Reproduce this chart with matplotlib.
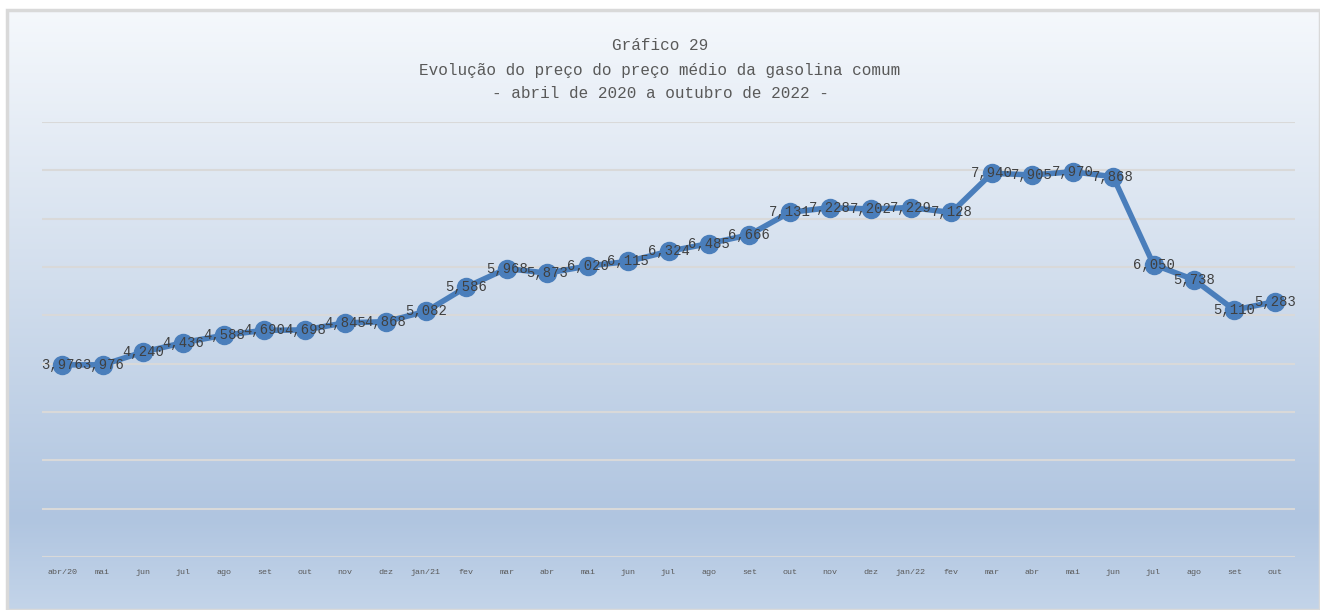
import numpy as np
import matplotlib
matplotlib.use("Agg")
import matplotlib.pyplot as plt
from matplotlib.colors import LinearSegmentedColormap
from matplotlib.patches import Rectangle

# preço médio da gasolina comum (R$/litro), abr/20 a out/22
meses = ['abr/20', 'mai', 'jun', 'jul', 'ago', 'set', 'out', 'nov', 'dez',
         'jan/21', 'fev', 'mar', 'abr', 'mai', 'jun', 'jul', 'ago', 'set', 'out', 'nov', 'dez',
         'jan/22', 'fev', 'mar', 'abr', 'mai', 'jun', 'jul', 'ago', 'set', 'out']
precos = [3.976, 3.976, 4.240, 4.436, 4.588, 4.690, 4.698, 4.845, 4.868,
          5.082, 5.586, 5.968, 5.873, 6.020, 6.115, 6.324, 6.485, 6.666, 7.131, 7.228, 7.202,
          7.229, 7.128, 7.940, 7.905, 7.970, 7.868, 6.050, 5.738, 5.110, 5.283]

titulo = "Gráfico 29\nEvolução do preço do preço médio da gasolina comum\n- abril de 2020 a outubro de 2022 -"

fig = plt.figure(figsize=(13.2, 6.1), dpi=100)
fig.patch.set_facecolor('white')

# fundo em degradê (como no Excel)
bg = fig.add_axes([7 / 1320, 0, 1 - 7 / 1320, 1 - 10 / 610], zorder=0)
cmap = LinearSegmentedColormap.from_list('fundo', [
    (0.0, '#f5f8fc'), (0.45, '#d2deed'), (0.85, '#b0c5e0'), (1.0, '#c3d4e9')])
grad = np.linspace(0, 1, 256).reshape(-1, 1)
bg.imshow(grad, aspect='auto', cmap=cmap, extent=[0, 1, 1, 0])
bg.add_patch(Rectangle((0, 0), 1, 1, transform=bg.transAxes, fill=False,
                       edgecolor='#d9d9d9', lw=2.5, clip_on=False))
bg.set_xlim(0, 1)
bg.set_ylim(1, 0)
bg.axis('off')

ax = fig.add_axes([42 / 1320, 1 - 557 / 610, (1295 - 42) / 1320, (557 - 122) / 610], zorder=1)
ax.patch.set_alpha(0)

x = np.arange(len(meses))
ax.plot(x, precos, color='#4a7ebb', lw=4, marker='o', markersize=13,
        markerfacecolor='#4a7ebb', markeredgecolor='#4a7ebb', zorder=3)

for xi, v in zip(x, precos):
    ax.text(xi, v, f"{v:.3f}".replace('.', ','), ha='center', va='center',
            fontsize=10, color='#404040', family='Liberation Mono', zorder=4)

ax.set_xlim(-0.5, len(meses) - 0.5)
ax.set_ylim(0, 9)
ax.set_yticks(np.arange(0, 10, 1))
ax.yaxis.grid(True, color='#d9d9d9', lw=1.5)
ax.set_axisbelow(True)
ax.tick_params(axis='y', left=False, labelleft=False)
ax.set_xticks(x)
ax.set_xticklabels(meses, fontsize=6, color='#595959', family='Liberation Mono')
ax.tick_params(axis='x', length=0, pad=9)
for s in ax.spines.values():
    s.set_visible(False)

fig.text(0.5, 1 - 70 / 610, titulo, ha='center', va='center', fontsize=11.5,
         color='#595959', family='Liberation Mono', linespacing=1.75)

fig.savefig('out.png', dpi=100)
